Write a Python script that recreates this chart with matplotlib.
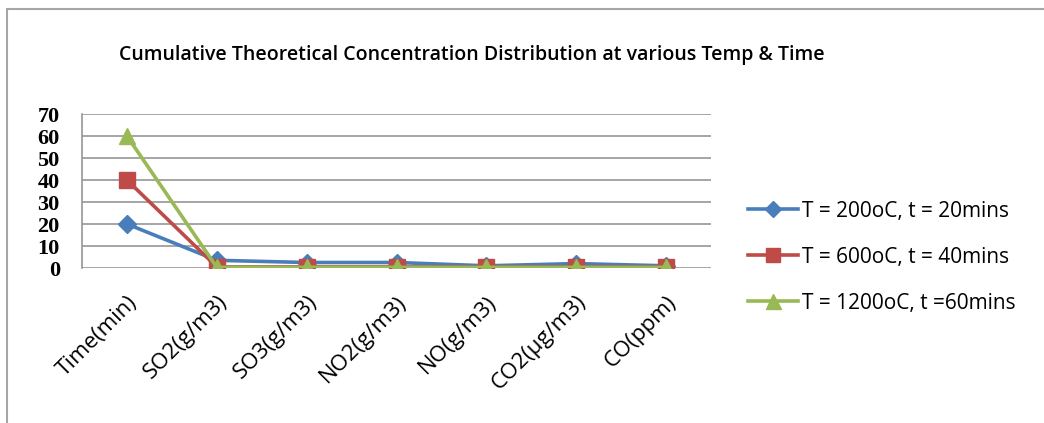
import matplotlib.pyplot as plt
from matplotlib.patches import Rectangle

# categories and series values
categorias = ['Time(min)', 'SO2(g/m3)', 'SO3(g/m3)', 'NO2(g/m3)', 'NO(g/m3)', 'CO2(µg/m3)', 'CO(ppm)']
serie_200 = [20, 3.5, 2.5, 2.5, 1.0, 2.0, 1.0]
serie_600 = [40, 0.5, 0.5, 0.5, 0.5, 0.5, 0.5]
serie_1200 = [60, 0.3, 0.3, 0.3, 0.3, 0.3, 0.3]
rotulos = ['T = 200oC, t = 20mins', 'T = 600oC, t = 40mins', 'T = 1200oC, t =60mins']
yticks = [0, 10, 20, 30, 40, 50, 60, 70]

fig = plt.figure(figsize=(10.44, 4.23), dpi=100)
fig.patches.append(Rectangle((7/1044, -0.1), 1.2, 1 - 9/423 + 0.1, transform=fig.transFigure,
                             fill=False, edgecolor='#a6a6a6', linewidth=1.5))

ax = fig.add_axes([82/1044, 1 - 268/423, (711 - 82)/1044, (268 - 114)/423])
x = list(range(len(categorias)))

ax.plot(x, serie_200, color='#4A7EBB', lw=2.6, marker='D', ms=9, label=rotulos[0], zorder=3)
ax.plot(x, serie_600, color='#BE4B48', lw=2.6, marker='s', ms=11, label=rotulos[1], zorder=4)
ax.plot(x, serie_1200, color='#98B954', lw=2.6, marker='^', ms=12, label=rotulos[2], zorder=5)

ax.set_xlim(-0.5, 6.5)
ax.set_ylim(0, 70)
ax.set_yticks(yticks)
ax.set_yticklabels([str(v) for v in yticks], fontfamily='Liberation Serif', fontweight='bold', fontsize=16)
ax.yaxis.grid(True, color='#969696', lw=1.2)
ax.set_axisbelow(True)
ax.tick_params(axis='y', length=0, pad=16)
ax.tick_params(axis='x', length=0, pad=17)
ax.set_xticks(x)
ax.set_xticklabels(categorias, rotation=45, ha='right', rotation_mode='anchor',
                   fontfamily='Open Sans', fontsize=16)
for s in ['top', 'right', 'bottom']:
    ax.spines[s].set_visible(False)
ax.spines['left'].set_color('#969696')
ax.spines['left'].set_linewidth(1.2)

fig.text(472/1044, 1 - 55/423, 'Cumulative Theoretical Concentration Distribution at various Temp & Time',
         ha='center', va='center', fontfamily='Open Sans', fontweight='semibold', fontsize=14)

fig.legend(loc='center left', bbox_to_anchor=(729/1044, 1 - 257/423), frameon=False,
           prop={'family': 'Open Sans', 'size': 15}, handlelength=2.4, handletextpad=0.2,
           labelspacing=1.2, markerscale=0.9)

fig.savefig('out.png', dpi=100)
